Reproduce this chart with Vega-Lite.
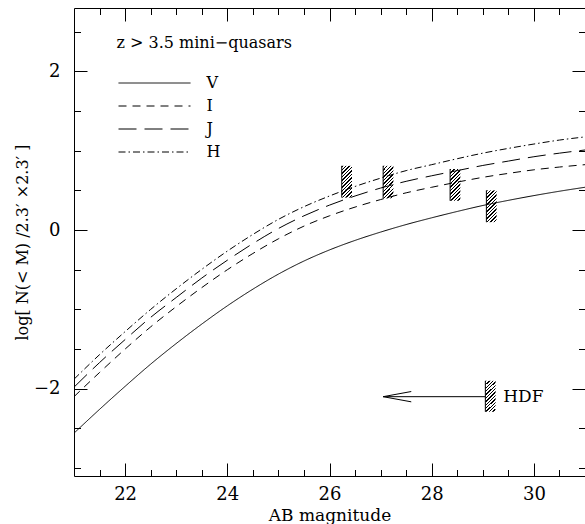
{
  "$schema": "https://vega.github.io/schema/vega-lite/v6.json",
  "autosize": {"type": "none"},
  "padding": {"left": 74, "top": 8, "right": 0, "bottom": 48},
  "width": 511,
  "height": 468,
  "background": "white",
  "config": {"view": {"stroke": "black", "strokeWidth": 1}, "font": "DejaVu Serif"},
  "datasets": {
    "curves": [
      {"band":"V","mag":21,"logN":-2.56},{"band":"V","mag":21.5,"logN":-2.26},{"band":"V","mag":22,"logN":-1.97},{"band":"V","mag":22.5,"logN":-1.69},{"band":"V","mag":23,"logN":-1.43},{"band":"V","mag":23.5,"logN":-1.185},{"band":"V","mag":24,"logN":-0.955},{"band":"V","mag":24.5,"logN":-0.745},{"band":"V","mag":25,"logN":-0.555},{"band":"V","mag":25.5,"logN":-0.39},{"band":"V","mag":26,"logN":-0.25},{"band":"V","mag":26.5,"logN":-0.13},{"band":"V","mag":27,"logN":-0.025},{"band":"V","mag":27.5,"logN":0.07},{"band":"V","mag":28,"logN":0.155},{"band":"V","mag":28.5,"logN":0.235},{"band":"V","mag":29,"logN":0.31},{"band":"V","mag":29.5,"logN":0.375},{"band":"V","mag":30,"logN":0.435},{"band":"V","mag":30.5,"logN":0.49},{"band":"V","mag":31,"logN":0.54},
      {"band":"I","mag":21,"logN":-2.10},{"band":"I","mag":21.5,"logN":-1.795},{"band":"I","mag":22,"logN":-1.50},{"band":"I","mag":22.5,"logN":-1.22},{"band":"I","mag":23,"logN":-0.965},{"band":"I","mag":23.5,"logN":-0.725},{"band":"I","mag":24,"logN":-0.50},{"band":"I","mag":24.5,"logN":-0.295},{"band":"I","mag":25,"logN":-0.11},{"band":"I","mag":25.5,"logN":0.05},{"band":"I","mag":26,"logN":0.18},{"band":"I","mag":26.5,"logN":0.29},{"band":"I","mag":27,"logN":0.385},{"band":"I","mag":27.5,"logN":0.47},{"band":"I","mag":28,"logN":0.54},{"band":"I","mag":28.5,"logN":0.605},{"band":"I","mag":29,"logN":0.665},{"band":"I","mag":29.5,"logN":0.715},{"band":"I","mag":30,"logN":0.76},{"band":"I","mag":30.5,"logN":0.795},{"band":"I","mag":31,"logN":0.825},
      {"band":"J","mag":21,"logN":-1.98},{"band":"J","mag":21.5,"logN":-1.67},{"band":"J","mag":22,"logN":-1.38},{"band":"J","mag":22.5,"logN":-1.10},{"band":"J","mag":23,"logN":-0.85},{"band":"J","mag":23.5,"logN":-0.605},{"band":"J","mag":24,"logN":-0.38},{"band":"J","mag":24.5,"logN":-0.17},{"band":"J","mag":25,"logN":0.02},{"band":"J","mag":25.5,"logN":0.18},{"band":"J","mag":26,"logN":0.315},{"band":"J","mag":26.5,"logN":0.43},{"band":"J","mag":27,"logN":0.53},{"band":"J","mag":27.5,"logN":0.615},{"band":"J","mag":28,"logN":0.685},{"band":"J","mag":28.5,"logN":0.75},{"band":"J","mag":29,"logN":0.815},{"band":"J","mag":29.5,"logN":0.87},{"band":"J","mag":30,"logN":0.925},{"band":"J","mag":30.5,"logN":0.97},{"band":"J","mag":31,"logN":1.01},
      {"band":"H","mag":21,"logN":-1.88},{"band":"H","mag":21.5,"logN":-1.57},{"band":"H","mag":22,"logN":-1.28},{"band":"H","mag":22.5,"logN":-1.00},{"band":"H","mag":23,"logN":-0.74},{"band":"H","mag":23.5,"logN":-0.495},{"band":"H","mag":24,"logN":-0.265},{"band":"H","mag":24.5,"logN":-0.055},{"band":"H","mag":25,"logN":0.135},{"band":"H","mag":25.5,"logN":0.295},{"band":"H","mag":26,"logN":0.43},{"band":"H","mag":26.5,"logN":0.55},{"band":"H","mag":27,"logN":0.655},{"band":"H","mag":27.5,"logN":0.75},{"band":"H","mag":28,"logN":0.825},{"band":"H","mag":28.5,"logN":0.90},{"band":"H","mag":29,"logN":0.97},{"band":"H","mag":29.5,"logN":1.03},{"band":"H","mag":30,"logN":1.085},{"band":"H","mag":30.5,"logN":1.135},{"band":"H","mag":31,"logN":1.175}
    ],
    "boxes": [
      {"m1":26.24,"m2":26.44,"lo":0.41,"hi":0.81},
      {"m1":27.05,"m2":27.25,"lo":0.40,"hi":0.81},
      {"m1":28.36,"m2":28.56,"lo":0.37,"hi":0.77},
      {"m1":29.07,"m2":29.27,"lo":0.10,"hi":0.50},
      {"m1":29.05,"m2":29.25,"lo":-2.29,"hi":-1.90}
    ],
    "arrow": [
      {"xa":27.05,"ya":-2.1,"xb":29.05,"yb":-2.1},
      {"xa":27.05,"ya":-2.1,"xb":27.6,"yb":-2.035},
      {"xa":27.05,"ya":-2.1,"xb":27.6,"yb":-2.165}
    ],
    "labels": [
      {"mag":29.4,"logN":-2.1,"text":"HDF"}
    ]
  },
  "resolve": {"scale": {"x": "independent", "y": "independent"}},
  "layer": [
    {
      "data": {"name": "curves"},
      "mark": {"type": "line", "color": "black", "strokeWidth": 1, "interpolate": "monotone"},
      "encoding": {
        "x": {
          "field": "mag", "type": "quantitative",
          "scale": {"domain": [21, 31], "nice": false, "zero": false},
          "axis": {
            "orient": "bottom",
            "values": [21.5,22,22.5,23,23.5,24,24.5,25,25.5,26,26.5,27,27.5,28,28.5,29,29.5,30,30.5],
            "format": "~g",
            "tickSize": {"condition": {"test": "datum.value % 2 === 0", "value": -13}, "value": -6.5},
            "tickColor": "black", "tickWidth": 1, "domain": false, "grid": false,
            "labelExpr": "datum.value % 2 === 0 ? datum.label : ''",
            "labelFont": "DejaVu Serif", "labelFontSize": 18, "labelColor": "black",
            "labelPadding": 22, "labelOverlap": false, "labelFlush": false,
            "title": "AB magnitude", "titleFont": "DejaVu Serif", "titleFontSize": 17,
            "titleFontWeight": "normal", "titleColor": "black",
            "titleX": 255.5, "titleY": 44, "titleBaseline": "alphabetic", "titleAlign": "center"
          }
        },
        "y": {
          "field": "logN", "type": "quantitative",
          "scale": {"domain": [-3.1, 2.8], "nice": false, "zero": false},
          "axis": {
            "orient": "left",
            "values": [-3,-2.5,-2,-1.5,-1,-0.5,0,0.5,1,1.5,2,2.5],
            "format": "~g",
            "tickSize": {"condition": {"test": "datum.value % 2 === 0", "value": -13}, "value": -6.5},
            "tickColor": "black", "tickWidth": 1, "domain": false, "grid": false,
            "labelExpr": "datum.value % 2 === 0 ? datum.label : ''",
            "labelFont": "DejaVu Serif", "labelFontSize": 18, "labelColor": "black",
            "labelPadding": 27, "labelOverlap": false, "labelFlush": false,
            "title": "log[ N(< M)  /2.3′ ×2.3′ ]", "titleFont": "DejaVu Serif", "titleFontSize": 16,
            "titleFontWeight": "normal", "titleColor": "black",
            "titleX": -52, "titleY": 234, "titleAngle": -90, "titleAlign": "center", "titleBaseline": "middle"
          }
        },
        "strokeDash": {
          "field": "band", "type": "nominal",
          "scale": {"domain": ["V","I","J","H"], "range": [[1,0],[8,6],[18,8],[7,3,1.5,3]]},
          "legend": {
            "orient": "none", "legendX": 42.5, "legendY": 27, "padding": 0,
            "title": "z > 3.5 mini−quasars", "titleFont": "DejaVu Serif", "titleFontSize": 16,
            "titleFontWeight": "normal", "titleColor": "black", "titlePadding": 24,
            "symbolType": "M-6,0H6", "symbolSize": 144, "symbolOffset": 30,
            "symbolStrokeWidth": 1, "symbolStrokeColor": "black",
            "labelFont": "DejaVu Serif", "labelFontSize": 16, "labelColor": "black",
            "labelOffset": 44, "rowPadding": 7
          }
        }
      }
    },
    {
      "data": {"name": "boxes"},
      "mark": {
        "type": "rect",
        "fill": {
          "gradient": "linear", "x1": 0, "y1": 0, "x2": 0.384, "y2": 1.2,
          "stops": [
            {"offset":0,"color":"black"},{"offset":0.0333,"color":"black"},{"offset":0.0333,"color":"rgba(0,0,0,0)"},{"offset":0.0833,"color":"rgba(0,0,0,0)"},
            {"offset":0.0833,"color":"black"},{"offset":0.1167,"color":"black"},{"offset":0.1167,"color":"rgba(0,0,0,0)"},{"offset":0.1667,"color":"rgba(0,0,0,0)"},
            {"offset":0.1667,"color":"black"},{"offset":0.2,"color":"black"},{"offset":0.2,"color":"rgba(0,0,0,0)"},{"offset":0.25,"color":"rgba(0,0,0,0)"},
            {"offset":0.25,"color":"black"},{"offset":0.2833,"color":"black"},{"offset":0.2833,"color":"rgba(0,0,0,0)"},{"offset":0.3333,"color":"rgba(0,0,0,0)"},
            {"offset":0.3333,"color":"black"},{"offset":0.3667,"color":"black"},{"offset":0.3667,"color":"rgba(0,0,0,0)"},{"offset":0.4167,"color":"rgba(0,0,0,0)"},
            {"offset":0.4167,"color":"black"},{"offset":0.45,"color":"black"},{"offset":0.45,"color":"rgba(0,0,0,0)"},{"offset":0.5,"color":"rgba(0,0,0,0)"},
            {"offset":0.5,"color":"black"},{"offset":0.5333,"color":"black"},{"offset":0.5333,"color":"rgba(0,0,0,0)"},{"offset":0.5833,"color":"rgba(0,0,0,0)"},
            {"offset":0.5833,"color":"black"},{"offset":0.6167,"color":"black"},{"offset":0.6167,"color":"rgba(0,0,0,0)"},{"offset":0.6667,"color":"rgba(0,0,0,0)"},
            {"offset":0.6667,"color":"black"},{"offset":0.7,"color":"black"},{"offset":0.7,"color":"rgba(0,0,0,0)"},{"offset":0.75,"color":"rgba(0,0,0,0)"},
            {"offset":0.75,"color":"black"},{"offset":0.7833,"color":"black"},{"offset":0.7833,"color":"rgba(0,0,0,0)"},{"offset":0.8333,"color":"rgba(0,0,0,0)"},
            {"offset":0.8333,"color":"black"},{"offset":0.8667,"color":"black"},{"offset":0.8667,"color":"rgba(0,0,0,0)"},{"offset":0.9167,"color":"rgba(0,0,0,0)"},
            {"offset":0.9167,"color":"black"},{"offset":0.95,"color":"black"},{"offset":0.95,"color":"rgba(0,0,0,0)"},{"offset":1,"color":"rgba(0,0,0,0)"}
          ]
        }
      },
      "encoding": {
        "x": {
          "field": "m1", "type": "quantitative",
          "scale": {"domain": [21, 31], "nice": false, "zero": false},
          "axis": {
            "orient": "top",
            "values": [21.5,22,22.5,23,23.5,24,24.5,25,25.5,26,26.5,27,27.5,28,28.5,29,29.5,30,30.5],
            "tickSize": {"condition": {"test": "datum.value % 2 === 0", "value": -13}, "value": -6.5},
            "tickColor": "black", "tickWidth": 1, "domain": false, "grid": false,
            "labels": false, "title": null
          }
        },
        "x2": {"field": "m2"},
        "y": {
          "field": "lo", "type": "quantitative",
          "scale": {"domain": [-3.1, 2.8], "nice": false, "zero": false},
          "axis": {
            "orient": "right",
            "values": [-3,-2.5,-2,-1.5,-1,-0.5,0,0.5,1,1.5,2,2.5],
            "tickSize": {"condition": {"test": "datum.value % 2 === 0", "value": -13}, "value": -6.5},
            "tickColor": "black", "tickWidth": 1, "domain": false, "grid": false,
            "labels": false, "title": null
          }
        },
        "y2": {"field": "hi"}
      }
    },
    {
      "data": {"name": "boxes"},
      "mark": {"type": "rule", "color": "black", "strokeWidth": 1},
      "encoding": {
        "x": {"field": "m1", "type": "quantitative", "scale": {"domain": [21, 31], "nice": false, "zero": false}, "axis": null},
        "y": {"field": "lo", "type": "quantitative", "scale": {"domain": [-3.1, 2.8], "nice": false, "zero": false}, "axis": null},
        "y2": {"field": "hi"}
      }
    },
    {
      "data": {"name": "arrow"},
      "mark": {"type": "rule", "color": "black", "strokeWidth": 1},
      "encoding": {
        "x": {"field": "xa", "type": "quantitative", "scale": {"domain": [21, 31], "nice": false, "zero": false}, "axis": null},
        "y": {"field": "ya", "type": "quantitative", "scale": {"domain": [-3.1, 2.8], "nice": false, "zero": false}, "axis": null},
        "x2": {"field": "xb"},
        "y2": {"field": "yb"}
      }
    },
    {
      "data": {"name": "labels"},
      "mark": {"type": "text", "align": "left", "baseline": "middle", "font": "DejaVu Serif", "fontSize": 17, "color": "black"},
      "encoding": {
        "x": {"field": "mag", "type": "quantitative", "scale": {"domain": [21, 31], "nice": false, "zero": false}, "axis": null},
        "y": {"field": "logN", "type": "quantitative", "scale": {"domain": [-3.1, 2.8], "nice": false, "zero": false}, "axis": null},
        "text": {"field": "text"}
      }
    }
  ]
}
